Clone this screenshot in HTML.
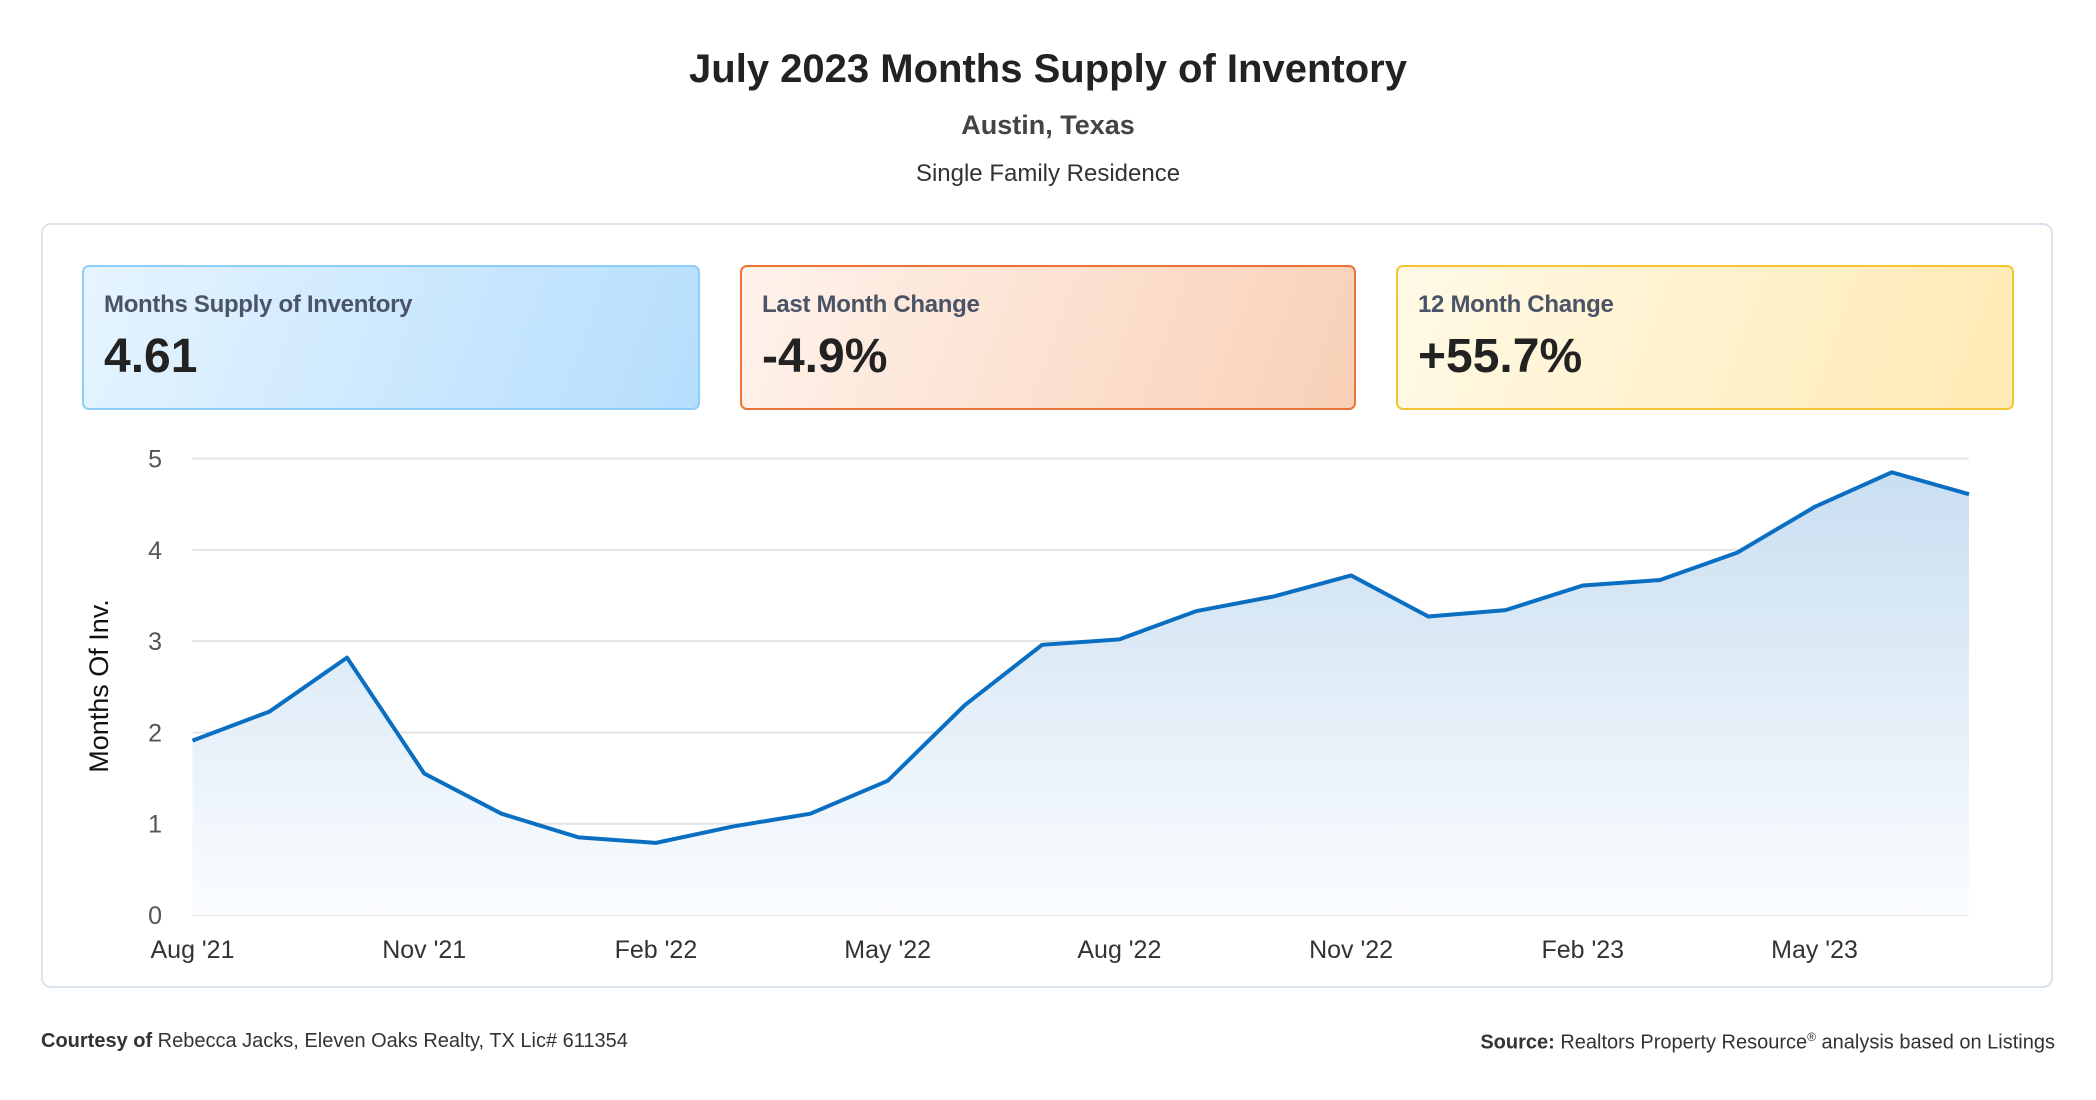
<!DOCTYPE html>
<html><head><meta charset="utf-8">
<style>
html,body{margin:0;padding:0;background:#fff;}
body{width:2096px;height:1100px;position:relative;overflow:hidden;font-family:"Liberation Sans",sans-serif;color:#222;}
.t{position:absolute;left:0;width:2096px;text-align:center;}
.card{position:absolute;left:41px;top:223px;width:2012px;height:765px;border:2px solid #dbe3ee;border-radius:10px;box-sizing:border-box;}
.kpi{position:absolute;top:265px;height:145px;box-sizing:border-box;border:2px solid;border-radius:7px;}
.kpi .l{position:absolute;left:20px;top:24px;font-size:24px;font-weight:bold;color:#4a5466;letter-spacing:-0.3px;}
.kpi .v{position:absolute;left:20px;top:62px;font-size:48px;font-weight:bold;color:#222;}
.foot{position:absolute;top:1030px;font-size:20px;color:#333;}
</style></head><body>
<div class="t" style="top:47px;font-size:40px;font-weight:bold;color:#222;">July 2023 Months Supply of Inventory</div>
<div class="t" style="top:110px;font-size:27px;font-weight:bold;color:#444;">Austin, Texas</div>
<div class="t" style="top:160px;font-size:24px;color:#333;">Single Family Residence</div>
<div class="card"></div>
<div class="kpi" style="left:82px;width:618px;border-color:#8ccdfa;background:linear-gradient(110deg,#e6f4ff,#b5defd);">
 <div class="l">Months Supply of Inventory</div>
 <div class="v">4.61</div></div>
<div class="kpi" style="left:740px;width:616px;border-color:#ea7434;background:linear-gradient(110deg,#fff3ec,#f8d0b6);">
 <div class="l">Last Month Change</div>
 <div class="v">-4.9%</div></div>
<div class="kpi" style="left:1396px;width:618px;border-color:#f5c531;background:linear-gradient(110deg,#fff9e6,#ffeab4);">
 <div class="l">12 Month Change</div>
 <div class="v">+55.7%</div></div>
<svg id="chart" width="2096" height="1100" style="position:absolute;left:0;top:0;">
<defs><linearGradient id="fg" x1="0" y1="0" x2="0" y2="1"><stop offset="0" stop-color="#c9def1"/><stop offset="1" stop-color="#fbfdff"/></linearGradient></defs>
<text transform="translate(108,686) rotate(-90)" text-anchor="middle" font-size="27" fill="#111" font-family="Liberation Sans, sans-serif">Months Of Inv.</text>
</svg>
<div class="foot" style="left:41px;"><b>Courtesy of</b> Rebecca Jacks, Eleven Oaks Realty, TX Lic# 611354</div>
<div class="foot" style="right:41px;"><b>Source:</b> Realtors Property Resource<sup style="font-size:12px">®</sup> analysis based on Listings</div>
<script>
const months = ["Aug '21","Sep '21","Oct '21","Nov '21","Dec '21","Jan '22","Feb '22","Mar '22","Apr '22","May '22","Jun '22","Jul '22","Aug '22","Sep '22","Oct '22","Nov '22","Dec '22","Jan '23","Feb '23","Mar '23","Apr '23","May '23","Jun '23","Jul '23"];
const supply = [1.91,2.23,2.82,1.55,1.11,0.85,0.79,0.97,1.11,1.47,2.30,2.96,3.02,3.33,3.49,3.72,3.27,3.34,3.61,3.67,3.97,4.47,4.85,4.61];
const yTicks = [0,1,2,3,4,5];
const xLabelIdx = [0,3,6,9,12,15,18,21];

const svg = document.getElementById('chart');
const NS = 'http://www.w3.org/2000/svg';
const X0=192.5, X1=1969, Y0=915, Y1=458.6, YMAX=5;
const x = i => X0 + (X1-X0)*i/(months.length-1);
const y = v => Y0 - (Y0-Y1)*v/YMAX;
function mk(tag, attrs){const e=document.createElementNS(NS,tag);for(const k in attrs)e.setAttribute(k,attrs[k]);svg.appendChild(e);return e;}
yTicks.forEach(t=>{
  const g=mk('line',{x1:X0,x2:X1,y1:y(t),y2:y(t),stroke:'#e3e3e3','stroke-width':2});
  
  
  const tx=mk('text',{x:162,y:y(t)+9,'text-anchor':'end','font-size':25,fill:'#555','font-family':'Liberation Sans, sans-serif'});
  tx.textContent=t;
  
  
});
let d='';
supply.forEach((v,i)=>{d+=(i?'L':'M')+x(i)+','+y(v);});
const area=mk('path',{d:d+'L'+x(supply.length-1)+','+Y0+'L'+X0+','+Y0+'Z',fill:'url(#fg)'});


const line=mk('path',{d:d,fill:'none',stroke:'#0a6fc2','stroke-width':4,'stroke-linejoin':'round'});


xLabelIdx.forEach(i=>{
  const tx=mk('text',{x:x(i),y:958,'text-anchor':'middle','font-size':25,fill:'#333','font-family':'Liberation Sans, sans-serif'});
  tx.textContent=months[i];
  
  
});
</script>
</body></html>
